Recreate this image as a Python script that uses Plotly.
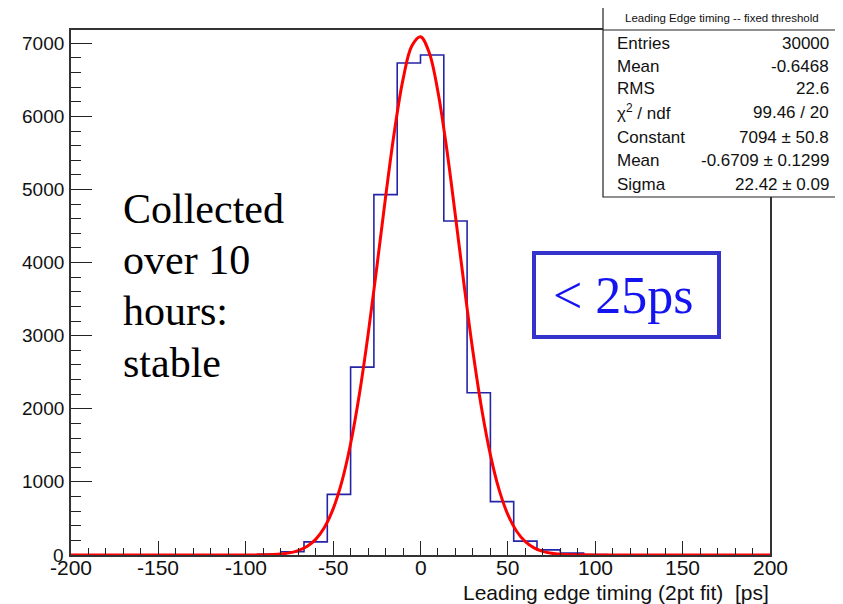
import numpy as np
import plotly.graph_objects as go

# ---------------- data ----------------
bin_lo, bin_hi, n_bins = -200, 200, 30
counts = [0, 0, 0, 0, 0, 0, 0, 0, 10, 45,
          180, 830, 2570, 4930, 6730, 6840, 4570, 2220, 730, 190,
          70, 25, 5, 0, 0, 0, 0, 0, 0, 0]

fit_x = [-200, -150, -100, -90, -85, -80, -75, -70, -65, -60, -55, -50, -45, -40, -35,
         -30, -25, -20, -15, -10, -5, 0, 5, 10, 15, 20, 25, 30, 35, 40, 45, 50, 55,
         60, 65, 70, 75, 80, 85, 90, 100, 150, 200]
fit_y = [0, 0, 0, 2.5, 6, 13, 29, 60, 116, 214, 377, 631, 1004, 1522, 2196,
         3015, 3937, 4892, 5783, 6506, 6963, 7091, 6871, 6335, 5557, 4636, 3683, 2783, 2001, 1370, 891, 552, 325,
         182, 97, 49, 24, 11, 5, 2, 0, 0, 0]

x_ticks = [-200, -150, -100, -50, 0, 50, 100, 150, 200]
y_ticks = [0, 1000, 2000, 3000, 4000, 5000, 6000, 7000]
y_max = 7182

stats_title = "Leading Edge timing -- fixed threshold"
stats_labels = ["Entries", "Mean", "RMS", "χ<sup>2</sup> / ndf", "Constant", "Mean", "Sigma"]
stats_values = ["30000", "-0.6468", "22.6", "99.46 / 20", "7094 ± 50.8", "-0.6709 ± 0.1299", "22.42 ± 0.09"]

note_lines = ["Collected", "over 10", "hours:", "stable"]
box_text = "&lt; 25ps"
x_title = "Leading edge timing (2pt fit)  [ps]"

# ---------------- geometry helpers (reference pixel -> paper) ----------------
OFF = 8  # page body margin
W, H = 843 - OFF, 604 - OFF
L, R, T, B = 71 - OFF, 770 - OFF, 30 - OFF, 555 - OFF


def px(x):
    return (x - OFF - L) / (R - L)


def py(y):
    return (B - (y - OFF)) / (B - T)


edges = np.linspace(bin_lo, bin_hi, n_bins + 1)

fig = go.Figure()
fig.add_trace(go.Scatter(
    x=list(edges), y=counts + [counts[-1]], mode="lines", line_shape="hv",
    line=dict(color="#2424a8", width=1.6), hoverinfo="skip", showlegend=False))
fig.add_trace(go.Scatter(
    x=fit_x, y=fit_y, mode="lines", line_shape="spline",
    line=dict(color="#ff0000", width=3), hoverinfo="skip", showlegend=False))

sans = "Liberation Sans, Arial, sans-serif"
serif = "Liberation Serif, Times New Roman, serif"
fig.update_layout(
    width=W, height=H, autosize=False,
    margin=dict(l=L, r=W - R, t=T, b=H - B, pad=0),
    paper_bgcolor="white", plot_bgcolor="white",
    showlegend=False,
    xaxis=dict(range=[bin_lo, bin_hi], tickvals=x_ticks, showticklabels=False,
               ticks="inside", ticklen=14, tickwidth=1.3, tickcolor="#222",
               minor=dict(dtick=10, tick0=0, ticks="inside", ticklen=7, tickwidth=1.3, tickcolor="#222"),
               showgrid=False, zeroline=False, showline=True, mirror=True,
               linecolor="#333", linewidth=1.5),
    yaxis=dict(range=[0, y_max], tickvals=y_ticks, showticklabels=False,
               ticks="inside", ticklen=21, tickwidth=1.3, tickcolor="#222",
               minor=dict(dtick=200, tick0=0, ticks="inside", ticklen=10, tickwidth=1.3, tickcolor="#222"),
               showgrid=False, zeroline=False, showline=True, mirror=True,
               linecolor="#333", linewidth=1.5),
)

annotations = []
shapes = []

# tick labels placed through the axis scales
for v in x_ticks:
    annotations.append(dict(text=str(v), x=v, y=py(567), xref="x", yref="paper",
                            xanchor="center", yanchor="middle", showarrow=False,
                            font=dict(family=sans, size=21, color="#111")))
for v in y_ticks:
    annotations.append(dict(text=str(v), x=px(66), y=v, xref="paper", yref="y",
                            xanchor="right", yanchor="middle", showarrow=False,
                            font=dict(family=sans, size=19, color="#111")))

# x axis title
annotations.append(dict(text=x_title, x=px(771), y=py(592), xref="paper", yref="paper",
                        xanchor="right", yanchor="middle", showarrow=False,
                        font=dict(family=sans, size=21, color="#111")))

# stats box
sx0, sx1, sy0, sy1 = 603, 840, 5, 197
shapes.append(dict(type="rect", xref="paper", yref="paper", x0=px(sx0), x1=px(sx1), y0=py(sy1), y1=py(sy0),
                   fillcolor="white", line=dict(color="#222", width=1.2), layer="above"))
shapes.append(dict(type="line", xref="paper", yref="paper", x0=px(sx0), x1=px(sx1), y0=py(30), y1=py(30),
                   line=dict(color="#222", width=1.2), layer="above"))
annotations.append(dict(text=stats_title, x=px((sx0 + sx1) / 2), y=py(18), xref="paper", yref="paper",
                        xanchor="center", yanchor="middle", showarrow=False,
                        font=dict(family=sans, size=11.5, color="#111")))
row_y = [43, 66, 89, 112, 137, 160, 184]
for lab, val, ry in zip(stats_labels, stats_values, row_y):
    annotations.append(dict(text=lab, x=px(615), y=py(ry), xref="paper", yref="paper",
                            xanchor="left", yanchor="middle", showarrow=False,
                            font=dict(family=sans, size=17, color="#111")))
    annotations.append(dict(text=val, x=px(831), y=py(ry), xref="paper", yref="paper",
                            xanchor="right", yanchor="middle", showarrow=False,
                            font=dict(family=sans, size=17, color="#111")))

# "Collected over 10 hours: stable"
for line, cy in zip(note_lines, [209, 260, 311, 363]):
    annotations.append(dict(text=line, x=px(121), y=py(cy), xref="paper", yref="paper",
                            xanchor="left", yanchor="middle", showarrow=False,
                            font=dict(family=serif, size=42, color="black")))

# "< 25ps" box
shapes.append(dict(type="rect", xref="paper", yref="paper", x0=px(534), x1=px(719), y0=py(337), y1=py(253),
                   fillcolor="rgba(0,0,0,0)", line=dict(color="#3434cc", width=4), layer="above"))
annotations.append(dict(text=box_text, x=px(623), y=py(296), xref="paper", yref="paper",
                        xanchor="center", yanchor="middle", showarrow=False,
                        font=dict(family=serif, size=52, color="#1414f0")))

fig.update_layout(annotations=annotations, shapes=shapes)
fig.write_html("out.html")
